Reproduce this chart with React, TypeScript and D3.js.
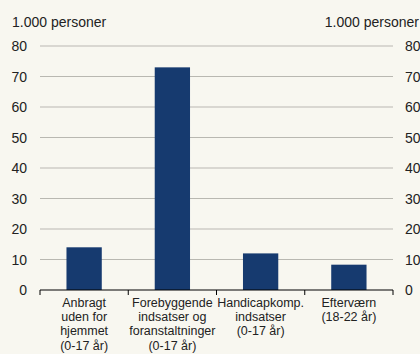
import React from "react";
import * as d3 from "d3";

const categories: string[][] = [
  ["Anbragt", "uden for", "hjemmet", "(0-17 år)"],
  ["Forebyggende", "indsatser og", "foranstaltninger", "(0-17 år)"],
  ["Handicapkomp.", "indsatser", "(0-17 år)"],
  ["Efterværn", "(18-22 år)"],
];
const values: number[] = [14, 73, 12, 8.3];
const yTicks: number[] = [0, 10, 20, 30, 40, 50, 60, 70, 80];
const unitLabel = "1.000 personer";

const W = 420;
const H = 354;
const left = 40;
const right = 393;
const top = 46;
const bottom = 290;

export default function App() {
  const x = d3
    .scaleBand<number>()
    .domain(values.map((_, i) => i))
    .range([left, right])
    .paddingInner(0)
    .paddingOuter(0);
  const y = d3.scaleLinear().domain([0, 80]).range([bottom, top]);
  const step = x.step();
  const barW = step * 0.4;
  const font = "'Liberation Sans', Arial, sans-serif";

  return (
    <svg
      width={W}
      height={H}
      style={{ position: "absolute", left: 0, top: 0, background: "#f8f7f0" }}
      fontFamily={font}
    >
      <rect x={0} y={0} width={W} height={H} fill="#f8f7f0" />
      {yTicks
        .filter((t) => t > 0)
        .map((t) => (
          <line
            key={t}
            x1={left}
            x2={right}
            y1={y(t)}
            y2={y(t)}
            stroke="#b9b8b1"
            strokeWidth={1.2}
          />
        ))}
      {values.map((v, i) => (
        <rect
          key={i}
          x={(x(i) as number) + (step - barW) / 2}
          y={y(v)}
          width={barW}
          height={y(0) - y(v)}
          fill="#163a6f"
        />
      ))}
      <line x1={left} x2={right} y1={bottom} y2={bottom} stroke="#000" strokeWidth={1.2} />
      {d3.range(values.length + 1).map((i) => {
        const xx = left + i * step;
        return <line key={i} x1={xx} x2={xx} y1={bottom} y2={bottom + 5} stroke="#000" strokeWidth={1} />;
      })}
      {yTicks.map((t) => (
        <g key={t}>
          <text x={27} y={y(t) + 5} textAnchor="end" fontSize={14} fill="#222">
            {t}
          </text>
          <text x={405} y={y(t) + 5} textAnchor="start" fontSize={14} fill="#222">
            {t}
          </text>
        </g>
      ))}
      <text x={12} y={27} fontSize={14} fill="#222">
        {unitLabel}
      </text>
      <text x={419} y={27} textAnchor="end" fontSize={14} fill="#222">
        {unitLabel}
      </text>
      {categories.map((lines, i) => {
        const cx = (x(i) as number) + step / 2;
        return (
          <text key={i} textAnchor="middle" fontSize={12.5} fill="#222">
            {lines.map((l, j) => (
              <tspan key={j} x={cx} y={307 + j * 14.2}>
                {l}
              </tspan>
            ))}
          </text>
        );
      })}
    </svg>
  );
}
